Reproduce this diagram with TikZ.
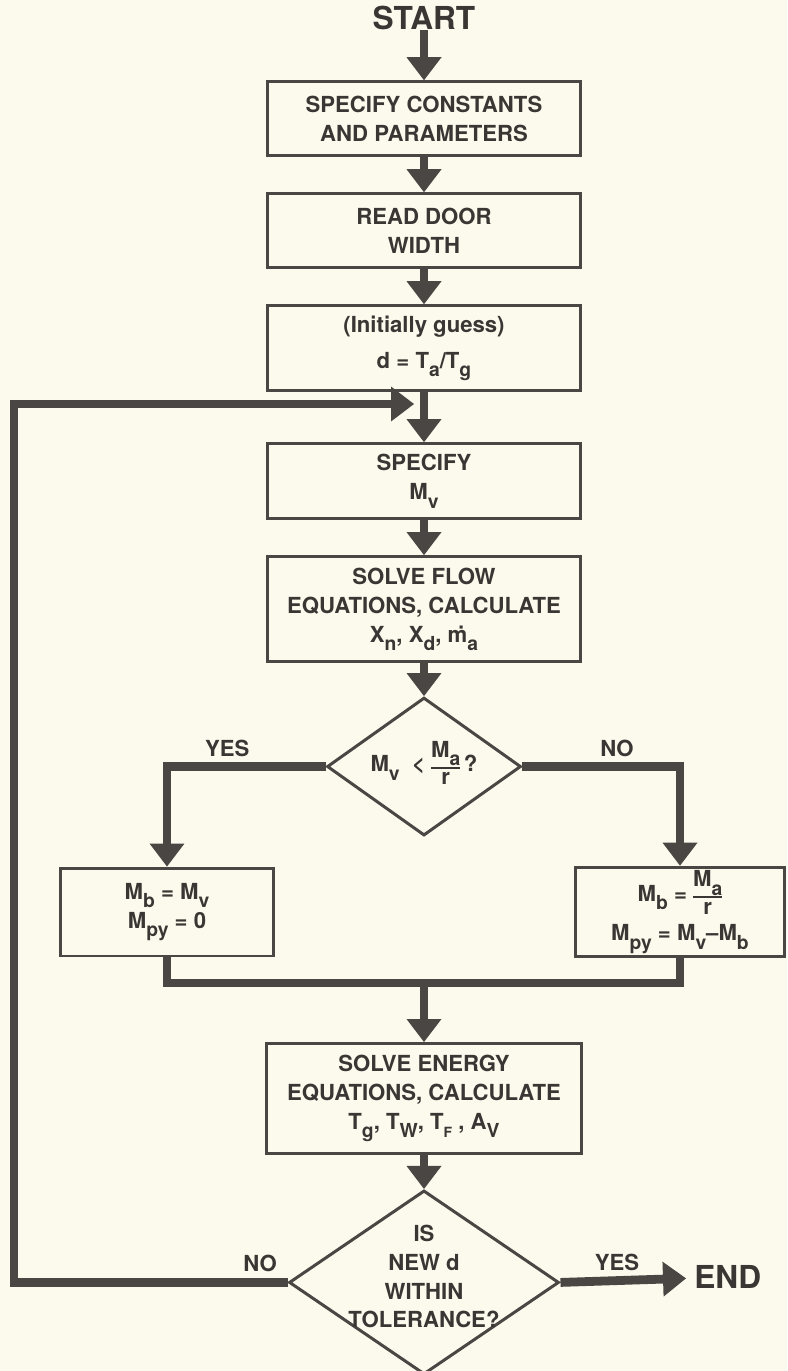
\documentclass[tikz,border=0pt]{standalone}
\usepackage{fontspec}
\setmainfont{TeX Gyre Heros}
\usepackage{tikz}
\usetikzlibrary{arrows.meta,positioning,shapes.geometric,calc}
\definecolor{paper}{RGB}{252,249,237}
\definecolor{ink}{RGB}{74,70,67}
\definecolor{inktext}{RGB}{58,54,52}
\newcommand{\lowsub}[1]{\raisebox{-0.7ex}{\fontsize{11}{11}\selectfont #1}}
\newcommand{\stackfrac}[2]{{\renewcommand{\arraystretch}{0.8}\setlength{\tabcolsep}{0pt}\setlength{\arrayrulewidth}{0.8pt}\begin{tabular}{c}#1\\[1.5pt]\hline #2\end{tabular}}}

\begin{document}
\begin{tikzpicture}[x=0.02cm, y=-0.02cm,
  every node/.style={text=inktext, font=\fontsize{12.6}{16.5}\selectfont\bfseries},
  box/.style={draw=ink, line width=1.7pt, fill=paper, align=center, minimum width=6.25cm, inner sep=2pt},
  decision/.style={draw=ink, line width=1.7pt, diamond, inner sep=0pt},
  arr/.style={-{Triangle[width=0.7cm, length=0.46cm, line width=0pt]}, line width=5pt, ink},
  link/.style={line width=5pt, ink},
  bigword/.style={font=\fontsize{18}{18}\selectfont\bfseries, inner sep=0pt}
]
\fill[paper] (0,0) rectangle (787,1371);
\useasboundingbox (0,0) rectangle (787,1371);
\node[bigword] (start) at (424,18) {START};
\node[box, minimum height=1.48cm, below=1.0cm of start] (consts) {SPECIFY CONSTANTS\\AND PARAMETERS};
\node[box, minimum height=1.48cm, below=0.7cm of consts] (door) {READ DOOR\\WIDTH};
\node[box, minimum height=1.7cm, below=0.7cm of door] (guess) {(Initially guess)\\[4pt]d = T\lowsub{a}/T\lowsub{g}};
\node[box, minimum height=1.5cm, below=1.0cm of guess] (specmv) {SPECIFY\\M\lowsub{v}};
\node[box, minimum height=2.1cm, below=0.7cm of specmv] (flow) {SOLVE FLOW\\EQUATIONS, CALCULATE\\X\lowsub{n}, X\lowsub{d}, \.{m}\lowsub{a}};
\node[decision, minimum width=3.88cm, minimum height=2.76cm, below=0.66cm of flow] (ratio) {};
\node (ratiotxt) at (ratio) {M\lowsub{v} \ < \stackfrac{M\lowsub{a}}{r}\,?};
\node[box, minimum width=4.26cm, minimum height=1.76cm] (bmv) at (167,912) {M\lowsub{b} = M\lowsub{v}\\M\lowsub{py} = 0};
\node[box, minimum width=4.2cm, minimum height=1.76cm] (bma) at (680,912) {M\lowsub{b} = \stackfrac{M\lowsub{a}}{r}\\[1pt]M\lowsub{py} = M\lowsub{v}--M\lowsub{b}};
\coordinate (merge) at (424,983);
\node[box, minimum width=6.3cm, minimum height=2.2cm, below=1.18cm of merge] (energy) {SOLVE ENERGY\\EQUATIONS, CALCULATE\\T\lowsub{g}, T\lowsub{W}, T\lowsub{\fontsize{8}{8}\selectfont F} , A\lowsub{V}};
\node[decision, minimum width=5.4cm, minimum height=3.68cm, below=0.68cm of energy] (tol) {};
\node[align=center] (toltxt) at ($(tol)+(0,-6)$) {IS\\NEW d\\WITHIN\\TOLERANCE?};
\node[bigword, anchor=west, inner xsep=0.16cm] (finish) at (686,1277) {END};
\coordinate (turn) at (14,404);
\coordinate (rejoin) at (specmv.north |- turn);
\draw[arr] (start) -- (consts);
\draw[arr] (consts) -- (door);
\draw[arr] (door) -- (guess);
\draw[arr] (guess) -- (specmv);
\draw[arr] (specmv) -- (flow);
\draw[arr] (flow) -- (ratio);
\draw[arr] (ratio.west) -| node[pos=0.31, above] {YES} (bmv);
\draw[arr] (ratio.east) -| node[pos=0.3, above] {NO} (bma);
\draw[link] (bmv) |- (merge) -| (bma);
\draw[arr] (merge) -- (energy);
\draw[arr] (energy) -- (tol);
\draw[arr] (tol.east) -- node[pos=0.45, above] {YES} (finish);
\draw[arr, shorten >=0.2cm] (tol.west) -| node[pos=0.05, above] {NO} (turn) -- (rejoin);
\end{tikzpicture}
\end{document}
